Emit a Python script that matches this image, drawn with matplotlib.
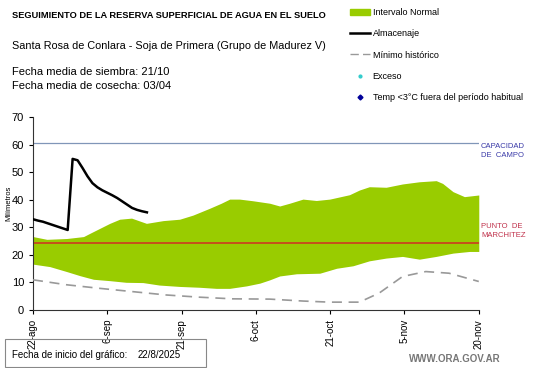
import numpy as np
import matplotlib
matplotlib.use('Agg')
import matplotlib.pyplot as plt
from matplotlib.patches import Patch, Rectangle
from matplotlib.lines import Line2D

plt.rcParams['font.family'] = ['Liberation Sans', 'DejaVu Sans']

# days since 22-ago-2025
dias_alm = [0, 1, 2, 3, 4, 5, 6, 7, 8, 9, 10, 11, 12, 13, 14, 15, 16, 17, 18, 19, 20, 21, 22, 23]
almacenaje = [32.9, 32.4, 32.0, 31.4, 30.8, 30.2, 29.6, 29.0, 54.8, 54.3, 51.5, 48.5, 46.0,
              44.5, 43.4, 42.5, 41.6, 40.6, 39.4, 38.2, 37.0, 36.3, 35.8, 35.4]

dias_sup = [0, 2.8, 6.8, 10.2, 11.5, 13.5, 15.5, 17.5, 19.9, 22.9, 26.3, 29.6, 32.3, 35.7,
            38.0, 39.7, 41.7, 44.4, 47.8, 49.8, 51.8, 54.5, 57.2, 59.9, 63.9, 65.9, 67.9,
            71.3, 74.6, 78.0, 81.4, 82.7, 84.8, 87.1, 90]
sup = [26.6, 25.6, 25.9, 26.6, 27.8, 29.6, 31.4, 32.9, 33.3, 31.4, 32.4, 32.9, 34.4, 36.9,
       38.7, 40.2, 40.2, 39.6, 38.7, 37.7, 38.7, 40.2, 39.7, 40.2, 41.8, 43.5, 44.7,
       44.5, 45.7, 46.5, 46.9, 45.9, 42.9, 41.1, 41.7]

dias_inf = [0, 3.4, 6.8, 9.5, 12.2, 15.5, 18.8, 22.2, 25.5, 29.6, 33.6, 37.0, 39.7, 43.1,
            45.8, 47.8, 49.8, 53.2, 57.9, 61.3, 64.6, 67.9, 71.3, 74.6, 78.0, 81.4, 84.8,
            88.1, 90]
inf = [16.6, 15.7, 13.9, 12.4, 11.1, 10.6, 10.0, 9.9, 9.0, 8.5, 8.2, 7.8, 7.8, 8.7,
       9.7, 10.9, 12.3, 13.1, 13.3, 15.1, 16.0, 17.8, 18.8, 19.4, 18.4, 19.4, 20.6,
       21.2, 21.2]

dias_min = [0, 6.8, 13.5, 20.2, 26.9, 33.6, 40.3, 47.8, 54.5, 59.9, 65.9, 69.9, 74.6,
            79.3, 84.0, 90]
minimo = [10.9, 9.1, 7.8, 6.6, 5.4, 4.6, 4.0, 3.9, 3.2, 2.8, 2.8, 6.1, 12.1, 13.9, 13.3, 10.3]

cap_campo = 60.6
marchitez = 24.2
tick_dias = [0, 15, 30, 45, 60, 75, 90]
tick_labels = ['22-ago', '6-sep', '21-sep', '6-oct', '21-oct', '5-nov', '20-nov']

verde = '#99cc00'

fig = plt.figure(figsize=(5.41, 3.68), dpi=100, facecolor='white')
ax = fig.add_axes([0.061, 0.158, 0.824, 0.524])

# band: common grid for fill
xg = np.union1d(dias_sup, dias_inf)
ax.fill_between(xg, np.interp(xg, dias_inf, inf), np.interp(xg, dias_sup, sup),
                color=verde, lw=0, zorder=1)
ax.axhline(marchitez, color='#c8461e', lw=1.3, zorder=2)
ax.axhline(cap_campo, color='#8096b8', lw=0.9, zorder=2)
ax.plot(dias_min, minimo, color='#999999', lw=1.2, dashes=(6, 4), zorder=3)
ax.plot(dias_alm, almacenaje, color='black', lw=1.8, zorder=4)

ax.set_xlim(0, 90)
ax.set_ylim(0, 70)
ax.set_xticks(tick_dias)
ax.set_xticklabels(tick_labels, rotation=90, fontsize=7)
ax.set_yticks(range(0, 71, 10))
ax.tick_params(axis='y', labelsize=8, length=3)
ax.tick_params(axis='x', length=3)
for s in ['top', 'right']:
    ax.spines[s].set_visible(False)
for s in ['left', 'bottom']:
    ax.spines[s].set_color('#333333')
ax.set_ylabel('Milímetros', fontsize=5.5)
ax.yaxis.set_label_coords(-0.047, 0.55)

ax.text(1.005, cap_campo - 3, 'CAPACIDAD\nDE  CAMPO', transform=ax.get_yaxis_transform(),
        color='#3a3aa8', fontsize=5.5, va='center', ha='left', linespacing=1.3)
ax.text(1.005, marchitez + 4.5, 'PUNTO  DE\nMARCHITEZ', transform=ax.get_yaxis_transform(),
        color='#c0304a', fontsize=5.5, va='center', ha='left', linespacing=1.3)

fig.text(0.022, 0.958, 'SEGUIMIENTO DE LA RESERVA SUPERFICIAL DE AGUA EN EL SUELO',
         fontsize=6.7, fontweight='bold', va='center')
fig.text(0.022, 0.875, 'Santa Rosa de Conlara - Soja de Primera (Grupo de Madurez V)',
         fontsize=7.8, va='center')
fig.text(0.022, 0.803, 'Fecha media de siembra: 21/10', fontsize=8, va='center')
fig.text(0.022, 0.765, 'Fecha media de cosecha: 03/04', fontsize=8, va='center')

handles = [Patch(color=verde),
           Line2D([], [], color='black', lw=1.8),
           Line2D([], [], color='#999999', lw=1.0, dashes=(6, 3)),
           Line2D([], [], color='#33cccc', marker='o', ms=2, lw=0),
           Line2D([], [], color='#000099', marker='D', ms=2.5, lw=0)]
labels = ['Intervalo Normal', 'Almacenaje', 'Mínimo histórico', 'Exceso',
          'Temp <3°C fuera del período habitual']
fig.legend(handles, labels, loc='upper left', bbox_to_anchor=(0.632, 1.0), frameon=False,
           fontsize=6.5, labelspacing=1.35, handlelength=2.2, handletextpad=0.3)

fig.patches.append(Rectangle((0.009, 0.004), 0.372, 0.075, transform=fig.transFigure,
                             fill=False, edgecolor='#888888', lw=0.8))
fig.text(0.022, 0.035, 'Fecha de inicio del gráfico:', fontsize=7, va='center')
fig.text(0.255, 0.035, '22/8/2025', fontsize=7, va='center')
fig.text(0.925, 0.025, 'WWW.ORA.GOV.AR', fontsize=7, fontweight='bold', color='#777777',
         va='center', ha='right')

fig.savefig('out.png', dpi=100, facecolor='white')
